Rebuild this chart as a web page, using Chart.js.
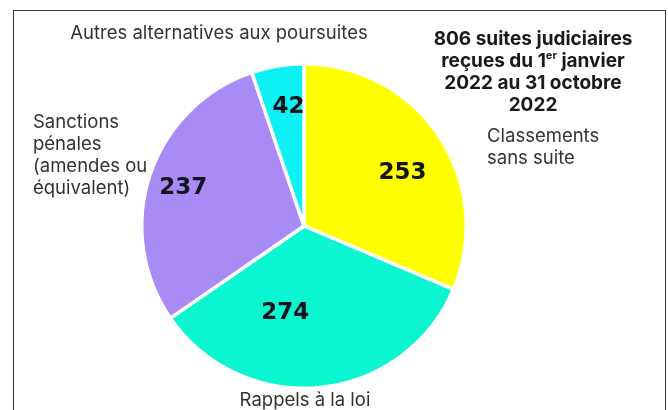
<!DOCTYPE html>
<html>
<head>
<meta charset="utf-8">
<script src="https://cdn.jsdelivr.net/npm/chart.js@4/dist/chart.umd.min.js"></script>
<style>
  html, body { margin: 0; padding: 0; background: #ffffff; }
  #wrap { position: relative; width: 668px; height: 410px; }
  #frame { position: absolute; left: 13px; top: 10px; width: 653px; height: 420px; border: 1.5px solid #3a3a3a; box-sizing: border-box; }
  canvas { position: absolute; left: 0; top: 0; }
</style>
</head>
<body>
<div id="wrap">
  <div id="frame"></div>
  <canvas id="chart" width="668" height="410"></canvas>
</div>
<script>
// Suites judiciaires, du 1er janvier au 31 octobre 2022
const categories = [
  ["Classements", "sans suite"],
  ["Rappels à la loi"],
  ["Sanctions", "pénales", "(amendes ou", "équivalent)"],
  ["Autres alternatives aux poursuites"]
];
const values = [253, 274, 237, 42];
const sliceColors = ["#FFFF00", "#0AF5D0", "#A98BF6", "#0DF0F4"];
const titleLines = ["806 suites judiciaires", "reçues du 1er janvier", "2022 au 31 octobre", "2022"];

// where each value label sits inside its slice: share of radius and angular nudge (degrees)
const labelRadius = [0.69, 0.55, 0.78, 0.74];
const labelNudge = [5, 18, -1, 2];

// category label anchors (text layout)
const catLabelPos = [
  { x: 487, y: 136, align: "left" },
  { x: 305, y: 400, align: "center" },
  { x: 33, y: 122, align: "left" },
  { x: 219, y: 33, align: "center" }
];

const TITLE_FONT = 19;

const textPlugin = {
  id: "pieText",
  afterDatasetsDraw(chart) {
    const ctx = chart.ctx;
    const meta = chart.getDatasetMeta(0);
    ctx.save();
    // value labels
    ctx.font = "bold 23px 'DejaVu Sans'";
    ctx.fillStyle = "#14141e";
    ctx.textAlign = "center";
    ctx.textBaseline = "middle";
    meta.data.forEach((arc, i) => {
      const p = arc.getProps(["x", "y", "startAngle", "endAngle", "outerRadius"], true);
      const a = (p.startAngle + p.endAngle) / 2 + labelNudge[i] * Math.PI / 180;
      const r = p.outerRadius * labelRadius[i];
      ctx.fillText(String(values[i]), p.x + r * Math.cos(a), p.y + r * Math.sin(a));
    });
    // category labels
    ctx.font = "18.5px Inter";
    ctx.fillStyle = "#333333";
    categories.forEach((lines, i) => {
      const pos = catLabelPos[i];
      ctx.textAlign = pos.align;
      lines.forEach((ln, k) => ctx.fillText(ln, pos.x, pos.y + k * 22));
    });
    // title block
    const big = "bold " + TITLE_FONT + "px Inter";
    const sup = "bold 11px Inter";
    ctx.font = big;
    ctx.fillStyle = "#1a1a1a";
    ctx.textAlign = "center";
    titleLines.forEach((ln, k) => {
      const y = 39 + k * 22;
      const idx = ln.indexOf("1er");
      if (idx >= 0) {
        const before = ln.slice(0, idx + 1);
        const after = ln.slice(idx + 3);
        ctx.font = big;
        const w1 = ctx.measureText(before).width;
        const w3 = ctx.measureText(after).width;
        ctx.font = sup;
        const w2 = ctx.measureText("er").width;
        const x0 = 533 - (w1 + w2 + w3) / 2;
        ctx.textAlign = "left";
        ctx.font = big;
        ctx.fillText(before, x0, y);
        ctx.font = sup;
        ctx.fillText("er", x0 + w1, y - 5);
        ctx.font = big;
        ctx.fillText(after, x0 + w1 + w2, y);
        ctx.textAlign = "center";
      } else {
        ctx.font = big;
        ctx.fillText(ln, 533, y);
      }
    });
    ctx.restore();
  }
};

new Chart(document.getElementById("chart"), {
  type: "pie",
  data: {
    labels: categories.map(l => l.join(" ")),
    datasets: [{
      data: values,
      backgroundColor: sliceColors,
      borderColor: "#ffffff",
      borderWidth: 3.5,
      hoverOffset: 0
    }]
  },
  options: {
    responsive: false,
    animation: false,
    layout: { padding: { left: 139, right: 199, top: 62, bottom: 20 } },
    plugins: {
      legend: { display: false },
      tooltip: { enabled: false }
    }
  },
  plugins: [textPlugin]
});
</script>
</body>
</html>
